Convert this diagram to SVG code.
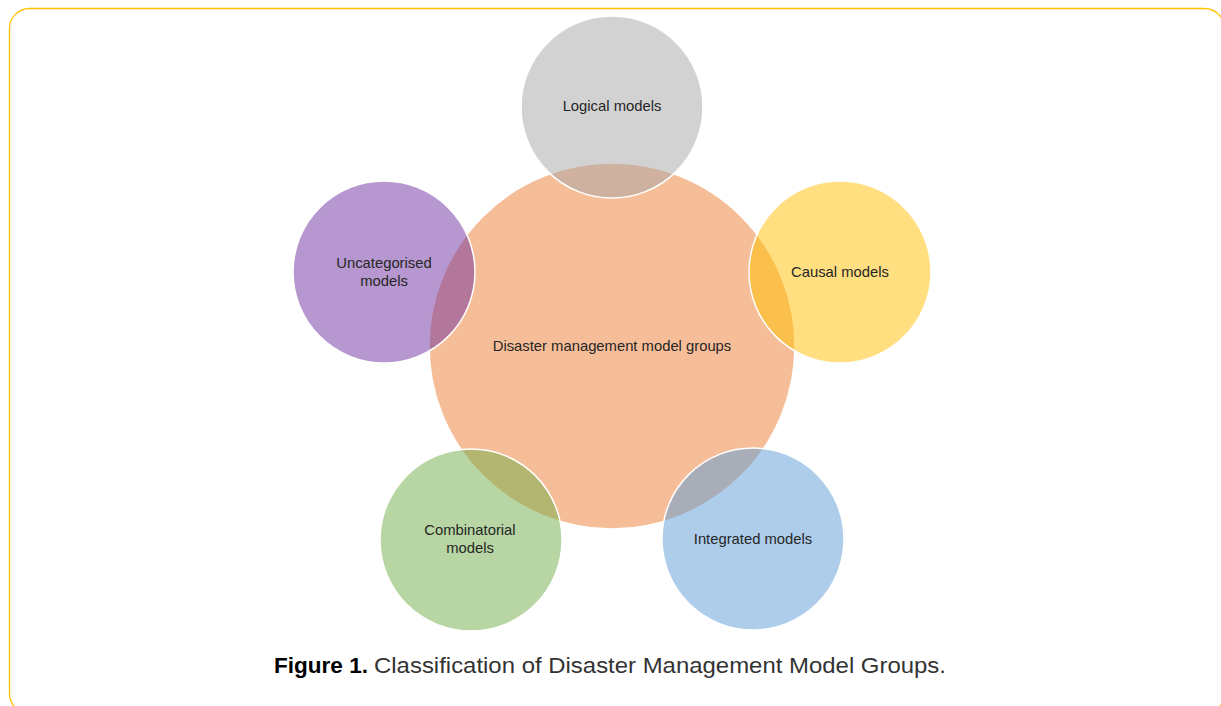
<svg xmlns="http://www.w3.org/2000/svg" width="1221" height="706" viewBox="0 0 1221 706">
<style>
.c{stroke:#ffffff;stroke-width:1.5}
.t{font-family:"Liberation Sans","Open Sans",sans-serif;font-size:14.8px;fill:#262626;text-anchor:middle}
.cap{font-family:"Liberation Sans","Open Sans",sans-serif;font-size:22.5px;fill:#333333}
.capb{font-family:"Liberation Sans","Open Sans",sans-serif;font-size:22.5px;font-weight:bold;fill:#000000}
</style>
<rect x="9.5" y="8.5" width="1215" height="705" rx="20" ry="20" fill="#ffffff" stroke="#FFC000" stroke-width="1.3"/>
<g id="center">
<circle class="c" cx="612" cy="346" r="183" fill="#ED7D31" fill-opacity="0.5"/>
<text class="t" x="612" y="351">Disaster management model groups</text>
</g>
<g id="logical">
<circle class="c" cx="612" cy="107" r="91" fill="#A5A5A5" fill-opacity="0.5"/>
<text class="t" x="612" y="111">Logical models</text>
</g>
<g id="causal">
<circle class="c" cx="840" cy="272" r="91" fill="#FFC000" fill-opacity="0.5"/>
<text class="t" x="840" y="277">Causal models</text>
</g>
<g id="integrated">
<circle class="c" cx="753" cy="539" r="91" fill="#5B9BD5" fill-opacity="0.5"/>
<text class="t" x="753" y="544">Integrated models</text>
</g>
<g id="combinatorial">
<circle class="c" cx="471" cy="540" r="91" fill="#70AD47" fill-opacity="0.5"/>
<text class="t" x="470" y="535">Combinatorial</text>
<text class="t" x="470" y="553">models</text>
</g>
<g id="uncategorised">
<circle class="c" cx="384" cy="272" r="91" fill="#7030A0" fill-opacity="0.5"/>
<text class="t" x="384" y="268">Uncategorised</text>
<text class="t" x="384" y="286">models</text>
</g>
<g id="connectors"></g>
<text class="capb" x="274" y="673" textLength="94" lengthAdjust="spacingAndGlyphs">Figure 1.</text>
<text class="cap" x="374" y="673" textLength="572" lengthAdjust="spacingAndGlyphs">Classification of Disaster Management Model Groups.</text>
</svg>
